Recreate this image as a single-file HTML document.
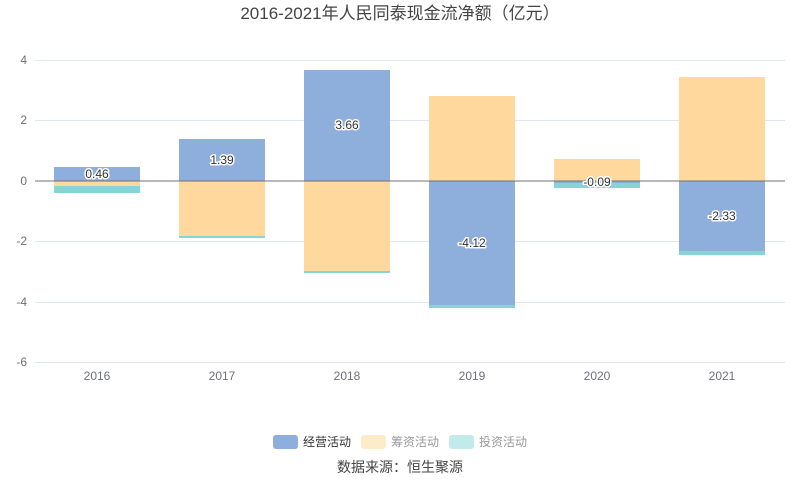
<!DOCTYPE html>
<html><head><meta charset="utf-8"><style>
body{margin:0;background:#fff;}
svg{display:block;font-family:"Liberation Sans","Noto Sans CJK SC",sans-serif;}
.lbl{font-size:12px;fill:#333;stroke:#fff;stroke-width:3px;paint-order:stroke;stroke-linejoin:round;}
</style></head><body>
<svg width="800" height="501" viewBox="0 0 800 501">
<text x="400" y="19" text-anchor="middle" font-size="17" fill="#444">2016-2021年人民同泰现金流净额（亿元）</text>
<g stroke="#e0e6f1" stroke-width="1">
<line x1="35" x2="785" y1="60.5" y2="60.5"/>
<line x1="35" x2="785" y1="120.5" y2="120.5"/>
<line x1="35" x2="785" y1="241.5" y2="241.5"/>
<line x1="35" x2="785" y1="302.5" y2="302.5"/>
<line x1="35" x2="785" y1="362.5" y2="362.5"/>
</g>
<g font-size="12" fill="#6e7079" text-anchor="end">
<text x="27" y="64">4</text><text x="27" y="124">2</text><text x="27" y="185">0</text>
<text x="27" y="245">-2</text><text x="27" y="306">-4</text><text x="27" y="366">-6</text>
</g>
<g font-size="12" fill="#6e7079" text-anchor="middle">
<text x="97" y="380">2016</text><text x="222" y="380">2017</text><text x="347" y="380">2018</text>
<text x="472" y="380">2019</text><text x="597" y="380">2020</text><text x="722" y="380">2021</text>
</g>
<!-- blue -->
<g fill="#8eaedb">
<rect x="54" y="167" width="86" height="14"/>
<rect x="179" y="139" width="86" height="42"/>
<rect x="304" y="70" width="86" height="111"/>
<rect x="429" y="181" width="86" height="124"/>
<rect x="554" y="181" width="86" height="2"/>
<rect x="679" y="181" width="86" height="70"/>
</g>
<g fill="#fed89c">
<rect x="54" y="181" width="86" height="5"/>
<rect x="179" y="181" width="86" height="55"/>
<rect x="304" y="181" width="86" height="90"/>
<rect x="429" y="96" width="86" height="85"/>
<rect x="554" y="159" width="86" height="22"/>
<rect x="679" y="77" width="86" height="104"/>
</g>
<g fill="#86d4d6">
<rect x="54" y="186" width="86" height="7"/>
<rect x="179" y="236" width="86" height="2"/>
<rect x="304" y="271" width="86" height="2"/>
<rect x="429" y="305" width="86" height="3"/>
<rect x="554" y="183" width="86" height="5"/>
<rect x="679" y="251" width="86" height="4"/>
</g>
<line x1="35" x2="785" y1="181" y2="181" stroke="#6e7079" stroke-width="1"/>
<g text-anchor="middle" class="lbl">
<text x="97" y="178">0.46</text>
<text x="222" y="164">1.39</text>
<text x="347" y="129">3.66</text>
<text x="472" y="247">-4.12</text>
<text x="597" y="186">-0.09</text>
<text x="722" y="220">-2.33</text>
</g>
<g font-size="12">
<rect x="273" y="435" width="25" height="14" rx="3" fill="#8eaedb"/>
<text x="303" y="446" fill="#333">经营活动</text>
<rect x="361" y="435" width="25" height="14" rx="3" fill="#feecc8"/>
<text x="391" y="446" fill="#999">筹资活动</text>
<rect x="449" y="435" width="25" height="14" rx="3" fill="#c3eaeb"/>
<text x="479" y="446" fill="#999">投资活动</text>
</g>
<text x="400" y="472" text-anchor="middle" font-size="14" fill="#444">数据来源：恒生聚源</text>
</svg>
</body></html>
